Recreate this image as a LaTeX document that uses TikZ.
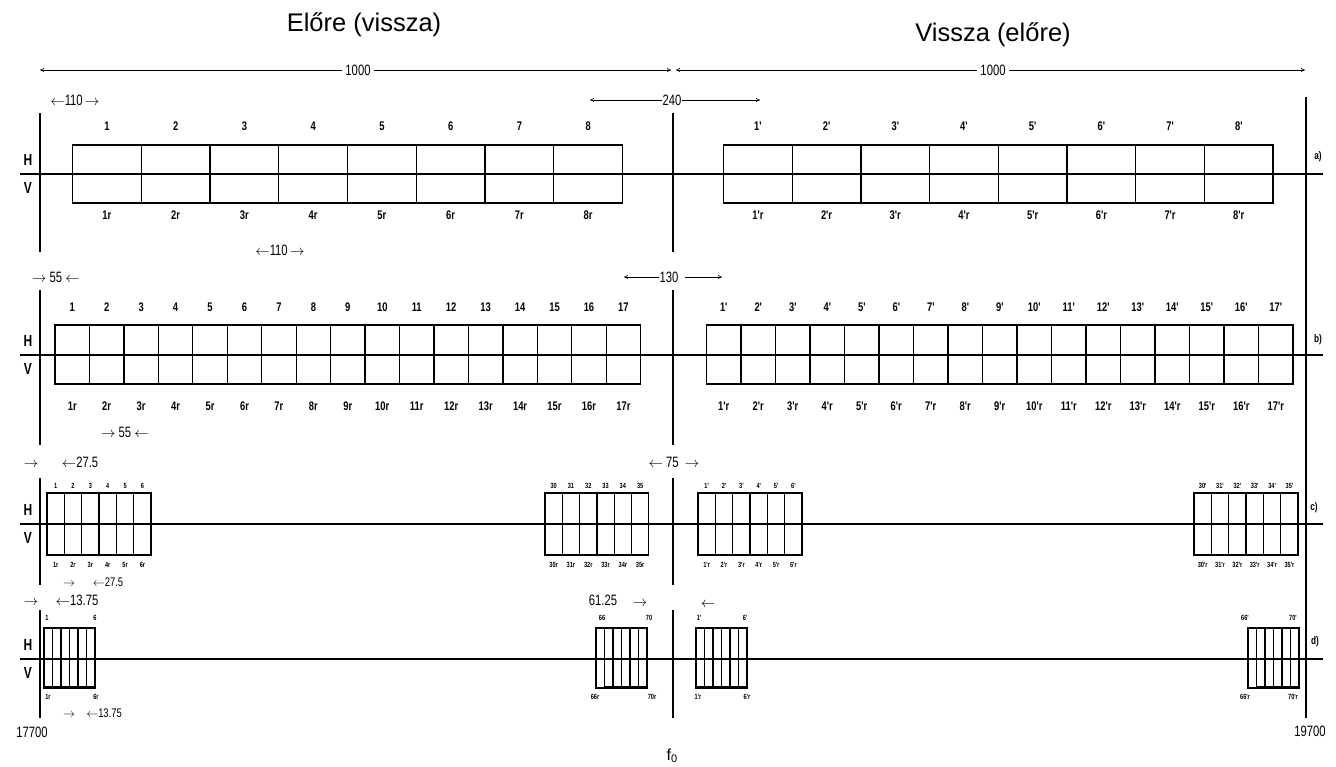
\documentclass[tikz,border=0pt]{standalone}
\usepackage{fontspec}
\setmainfont{Liberation Sans}
\newfontfamily\nf[FakeStretch=0.75]{Liberation Sans}
\usetikzlibrary{arrows.meta}
\newcommand{\la}{\ensuremath{\leftarrow}}
\newcommand{\ra}{\ensuremath{\rightarrow}}
\tikzset{
  axisln/.style={line width=1.5pt},
  vln/.style={line width=1.5pt},
  cellbox/.style={line width=1.3pt},
  dimln/.style={line width=0.6pt},
  tip/.style={-{To[length=4pt,width=4pt]}},
  lab/.style={font=\nf\bfseries\fontsize{12.5}{12.5}\selectfont, inner sep=0pt, text height=9pt, text depth=0pt},
  tinylab/.style={font=\nf\bfseries\fontsize{7.5}{7.5}\selectfont, inner sep=0pt, text height=5.4pt, text depth=0pt},
  dim/.style={font=\nf\fontsize{15}{15}\selectfont, inner sep=0pt, text height=10.8pt, text depth=0pt},
  dimsm/.style={font=\nf\fontsize{12.5}{12.5}\selectfont, inner sep=0pt, text height=9pt, text depth=0pt},
  hv/.style={font=\nf\bfseries\fontsize{16}{16}\selectfont, inner sep=0pt},
  rowlab/.style={font=\nf\bfseries\fontsize{11}{11}\selectfont, inner sep=0pt},
  title/.style={font=\fontsize{25.5}{25.5}\selectfont, inner sep=0pt},
}
% cells: x0, cell width, n, top, bottom
\newcommand{\cells}[5]{%
  \draw[cellbox] (#1,#4) rectangle ({#1+#3*#2},#5);
  \pgfmathtruncatemacro{\nm}{#3-1}%
  \foreach \k in {1,...,\nm} \draw[cellbox] ({#1+\k*#2},#4) -- ({#1+\k*#2},#5);
}
% labels: name prefix, x0, width, y, style, list
\newcommand{\labs}[6]{%
  \foreach \t [count=\i] in {#6} \node[#5] (#1-\i) at ({#2+(\i-0.5)*#3},#4) {\t};
}
\begin{document}
\begin{tikzpicture}[x=1pt,y=-1pt]
\useasboundingbox (0,0) rectangle (1336,767);

% titles
\node[title] (t1) at (364,25) {Előre (vissza)};
\node[title] (t2) at (993,35) {Vissza (előre)};

% top 1000 dimension lines
\coordinate (dL) at (40,70);
\coordinate (dM1) at (671,70);
\coordinate (dM2) at (676,70);
\coordinate (dR) at (1305,70);
\draw[dimln,{To[length=4pt,width=4pt]}-{To[length=4pt,width=4pt]}] (dL) -- (dM1);
\draw[dimln,{To[length=4pt,width=4pt]}-{To[length=4pt,width=4pt]}] (dM2) -- (dR);
\node[dim,fill=white,inner xsep=3pt] (k1) at (358,70) {1000};
\node[dim,fill=white,inner xsep=3pt] (k2) at (993,70) {1000};

% vertical lines
\coordinate (r1) at (1306,97);  \coordinate (r2) at (1306,718);
\draw[vln] (r1) -- (r2);
\foreach \x in {40,673}{
  \draw[vln] (\x,113) -- (\x,252);
  \draw[vln] (\x,290) -- (\x,445);
  \draw[vln] (\x,478) -- (\x,585);
  \draw[vln] (\x,610) -- (\x,718);
}

% axis lines and H/V
\foreach \y/\r in {174/a,355/b,524/c,659/d}{
  \draw[axisln] (20,\y) -- (1323,\y);
  \node[hv] (H\r) at (28,\y-14) {H};
  \node[hv] (V\r) at (28,\y+14) {V};
}
\node[rowlab] (ra) at (1318,157) {a)};
\node[rowlab] (rb) at (1318,340) {b)};
\node[rowlab] (rc) at (1314,508) {c)};
\node[rowlab] (rd) at (1315,642) {d)};

% ---------- row a ----------
\cells{72.5}{68.75}{8}{145}{203}
\cells{723.5}{68.7}{8}{145}{203}
\labs{at}{72.5}{68.75}{126}{lab}{1,2,3,4,5,6,7,8}
\labs{ab}{72.5}{68.75}{215}{lab}{1r,2r,3r,4r,5r,6r,7r,8r}
\labs{apt}{723.5}{68.7}{126}{lab}{1',2',3',4',5',6',7',8'}
\labs{apb}{723.5}{68.7}{215}{lab}{1'r,2'r,3'r,4'r,5'r,6'r,7'r,8'r}
\node[dim] (a110) at (75,100) {\la110\,\ra};
\node[dim] (a110b) at (280,250) {\la110\,\ra};
\node[dim] (a240) at (672,100) {240};
\coordinate (a240l) at (590,100);
\coordinate (a240r) at (760,100);
\draw[dimln,tip] (a240.west) -- (a240l);
\draw[dimln,tip] (a240.east) -- (a240r);

% ---------- row b ----------
\cells{55}{34.45}{17}{325}{384}
\cells{706.5}{34.5}{17}{325}{384}
\labs{bt}{55}{34.45}{307}{lab}{1,2,3,4,5,6,7,8,9,10,11,12,13,14,15,16,17}
\labs{bb}{55}{34.45}{406}{lab}{1r,2r,3r,4r,5r,6r,7r,8r,9r,10r,11r,12r,13r,14r,15r,16r,17r}
\labs{bpt}{706.5}{34.5}{307}{lab}{1',2',3',4',5',6',7',8',9',10',11',12',13',14',15',16',17'}
\labs{bpb}{706.5}{34.5}{406}{lab}{1'r,2'r,3'r,4'r,5'r,6'r,7'r,8'r,9'r,10'r,11'r,12'r,13'r,14'r,15'r,16'r,17'r}
\node[dim] (b55) at (56,277) {\ra\ 55 \la};
\node[dim] (b55b) at (125,432) {\ra\ 55 \la};
\node[dim] (b130) at (669,277) {130};
\coordinate (b130l) at (624,277);
\coordinate (b130r) at (722,277);
\draw[dimln,tip] (b130.west) -- (b130l);
\draw[dimln,tip] ([xshift=6pt]b130.east) -- (b130r);

% ---------- row c ----------
\cells{47}{17.35}{6}{493}{555}
\cells{545}{17.3}{6}{493}{555}
\cells{698}{17.35}{6}{493}{555}
\cells{1194}{17.35}{6}{493}{555}
\labs{ct1}{47}{17.35}{486}{tinylab}{1,2,3,4,5,6}
\labs{cb1}{47}{17.35}{565}{tinylab}{1r,2r,3r,4r,5r,6r}
\labs{ct2}{545}{17.3}{486}{tinylab}{30,31,32,33,34,35}
\labs{cb2}{545}{17.3}{565}{tinylab}{30r,31r,32r,33r,34r,35r}
\labs{ct3}{698}{17.35}{486}{tinylab}{1',2',3',4',5',6'}
\labs{cb3}{698}{17.35}{565}{tinylab}{1'r,2'r,3'r,4'r,5'r,6'r}
\labs{ct4}{1194}{17.35}{486}{tinylab}{30',31',32',33',34',35'}
\labs{cb4}{1194}{17.35}{565}{tinylab}{30'r,31'r,32'r,33'r,34'r,35'r}
\node[dim] (c1a) at (31,462) {\ra};
\node[dim] (c1b) at (80,462) {\la27.5};
\node[dimsm] (c2a) at (69,582) {\ra};
\node[dimsm] (c2b) at (108,582) {\la27.5};
\node[dim] (c75) at (674,462) {\la\ 75 \ \ra};

% ---------- row d ----------
\foreach \x in {44,596,696,1248}{
  \cells{\x}{8.5}{6}{628}{688}
}
\draw[line width=3pt] (44,687) -- (95,687);
\draw[line width=3pt] (604.5,687) -- (647,687);
\draw[line width=3pt] (696,687) -- (747,687);
\draw[line width=3pt] (1256.5,687) -- (1299,687);
\node[tinylab] (d1) at (47,618) {1};
\node[tinylab] (d2) at (95,618) {6};
\node[tinylab] (d3) at (602,618) {66};
\node[tinylab] (d4) at (649,618) {70};
\node[tinylab] (d5) at (699,618) {1'};
\node[tinylab] (d6) at (745,618) {6'};
\node[tinylab] (d7) at (1245,618) {66'};
\node[tinylab] (d8) at (1293,618) {70'};
\node[tinylab] (e1) at (48,697) {1r};
\node[tinylab] (e2) at (96,697) {6r};
\node[tinylab] (e3) at (595,697) {66r};
\node[tinylab] (e4) at (652,697) {70r};
\node[tinylab] (e5) at (698,697) {1'r};
\node[tinylab] (e6) at (747,697) {6'r};
\node[tinylab] (e7) at (1245,697) {66'r};
\node[tinylab] (e8) at (1293,697) {70'r};
\node[dim] (d1a) at (31,600) {\ra};
\node[dim] (d1b) at (77,600) {\la13.75};
\node[dimsm] (d2a) at (69,713) {\ra};
\node[dimsm] (d2b) at (104,713) {\la13.75};
\node[dim] (d61) at (603,600) {61.25};
\node[dim] (d61a) at (640,601) {\ra};
\node[dim] (d61b) at (708,602) {\la};

% bottom labels
\node[dim] (f1) at (32,732) {17700};
\node[dim] (f2) at (1310,731) {19700};
\node[font=\fontsize{16}{16}\selectfont, inner sep=0pt] (f0) at (672,756) {f\raisebox{-2pt}{\fontsize{11}{11}\selectfont 0}};
\end{tikzpicture}
\end{document}
